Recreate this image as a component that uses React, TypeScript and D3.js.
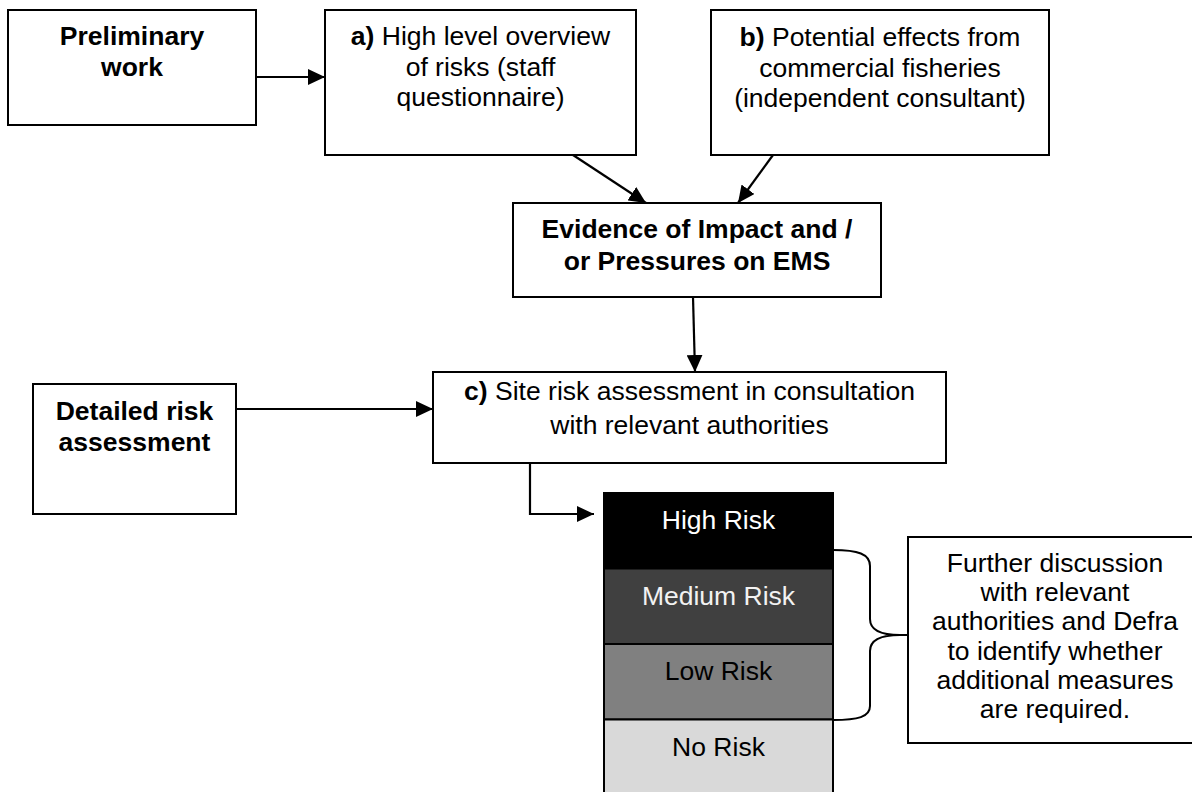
import React from "react";
import * as d3 from "d3";

// ---- text content ----
const prelimLines = ["Preliminary", "work"];
const overviewLines = ["High level overview", "of risks (staff", "questionnaire)"];
const fisheriesLines = ["Potential effects from", "commercial fisheries", "(independent consultant)"];
const evidenceLines = ["Evidence of Impact and /", "or Pressures on EMS"];
const siteLines = ["Site risk assessment in consultation", "with relevant authorities"];
const detailedLines = ["Detailed risk", "assessment"];
const furtherLines = [
    "Further discussion",
    "with relevant",
    "authorities and Defra",
    "to identify whether",
    "additional measures",
    "are required.",
];

const riskLevels = ["High Risk", "Medium Risk", "Low Risk", "No Risk"];
const riskShades = ["#000000", "#404040", "#808080", "#d9d9d9"];
const riskInk = ["#ffffff", "#f2f2f2", "#000000", "#000000"];

const W = 1192;
const H = 792;
const FONT = 25.5;
const STRETCH = 1.04;
const FAMILY = "'Liberation Sans', Arial, Helvetica, sans-serif";

// box layout (pixels)
const nodes = [
    { id: "prelim", lines: prelimLines, bold: true, x0: 8, y0: 10, x1: 256, y1: 125, base: 45, gap: 30.5 },
    { id: "a", tag: "a)", lines: overviewLines, x0: 325, y0: 10, x1: 636, y1: 155, base: 45, gap: 30.5 },
    { id: "b", tag: "b)", lines: fisheriesLines, x0: 711, y0: 10, x1: 1049, y1: 155, base: 46, gap: 30.5 },
    { id: "evidence", lines: evidenceLines, bold: true, x0: 513, y0: 203, x1: 881, y1: 297, base: 238, gap: 32 },
    { id: "c", tag: "c)", lines: siteLines, x0: 433, y0: 372, x1: 946, y1: 463, base: 400, gap: 34 },
    { id: "detailed", lines: detailedLines, bold: true, x0: 33, y0: 384, x1: 236, y1: 514, base: 420, gap: 31 },
    { id: "further", lines: furtherLines, x0: 908, y0: 537, x1: 1202, y1: 743, base: 572, gap: 29.2 },
];

// connectors
const edges = [
    [[256, 77], [325, 77]],
    [[573, 155], [646, 203]],
    [[773, 155], [738, 203]],
    [[693, 297], [695, 372]],
    [[236, 409], [433, 409]],
    [[476, 463], [530, 463], [530, 514], [594, 514]],
];

function Label({ node }) {
    const cx = (node.x0 + node.x1) / 2;
    return (
        <g>
            {node.lines.map((line, i) => (
                <text
                    key={i}
                    transform={`translate(${cx},${node.base + i * node.gap}) scale(${STRETCH},1)`}
                    textAnchor="middle"
                    fontSize={FONT}
                    fontFamily={FAMILY}
                    fontWeight={node.bold ? "bold" : "normal"}
                    fill="#000"
                >
                    {i === 0 && node.tag ? (
                        <>
                            <tspan fontWeight="bold">{node.tag}</tspan>
                            {" " + line}
                        </>
                    ) : line}
                </text>
            ))}
        </g>
    );
}

export default function App() {
    const line = d3.line();

    const y = d3.scaleBand().domain(riskLevels).range([493, 795]).padding(0);
    const shade = d3.scaleOrdinal().domain(riskLevels).range(riskShades);
    const ink = d3.scaleOrdinal().domain(riskLevels).range(riskInk);
    const stackX0 = 604;
    const stackX1 = 833;

    // curly brace next to high/medium/low
    const top = 550, bottom = 720, mid = 635, bx = 870, tip = 908;
    const brace = d3.path();
    brace.moveTo(stackX1, top);
    brace.bezierCurveTo(858, top, bx, top + 4, bx, top + 16);
    brace.lineTo(bx, mid - 16);
    brace.bezierCurveTo(bx, mid - 4, 884, mid, 900, mid);
    brace.lineTo(tip, mid);
    brace.moveTo(900, mid);
    brace.bezierCurveTo(884, mid, bx, mid + 4, bx, mid + 16);
    brace.lineTo(bx, bottom - 14);
    brace.bezierCurveTo(bx, bottom - 3, 858, bottom, stackX1, bottom);

    return (
        <div style={{ position: "fixed", left: 0, top: 0 }}>
            <svg width={W} height={H} style={{ display: "block", background: "#fff" }}>
                <defs>
                    <marker id="head" markerUnits="userSpaceOnUse" markerWidth={17} markerHeight={16}
                        refX={17} refY={8} orient="auto">
                        <path d="M0,0 L17,8 L0,16 Z" fill="#000" />
                    </marker>
                </defs>

                {/* risk stack */}
                {riskLevels.map((r) => (
                    <g key={r}>
                        <rect x={stackX0} y={y(r)} width={stackX1 - stackX0} height={y.bandwidth()}
                            fill={shade(r)} stroke="#000" strokeWidth={2} />
                        <text
                            transform={`translate(${(stackX0 + stackX1) / 2},${y(r) + 36}) scale(${STRETCH},1)`}
                            textAnchor="middle" fontSize={FONT} fontFamily={FAMILY} fill={ink(r)}
                        >
                            {r}
                        </text>
                    </g>
                ))}

                <path d={brace.toString()} fill="none" stroke="#000" strokeWidth={2} />

                {nodes.map((n) => (
                    <g key={n.id}>
                        <rect x={n.x0} y={n.y0} width={n.x1 - n.x0} height={n.y1 - n.y0}
                            fill="#fff" stroke="#000" strokeWidth={2} />
                        <Label node={n} />
                    </g>
                ))}

                {edges.map((pts, i) => (
                    <path key={i} d={line(pts)} fill="none" stroke="#000" strokeWidth={2.2}
                        markerEnd="url(#head)" />
                ))}
            </svg>
        </div>
    );
}
